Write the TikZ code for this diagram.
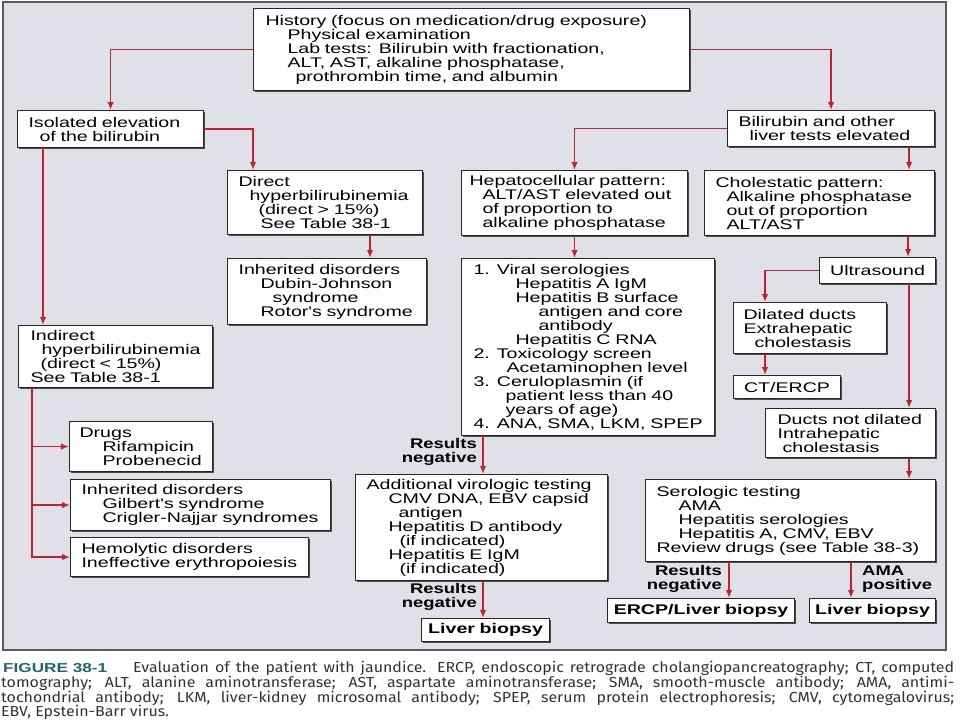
\documentclass[tikz,border=0pt]{standalone}
\usepackage{fontspec}
\setmainfont{Liberation Sans}
\newfontfamily\boxfont{Liberation Sans}[FakeStretch=1.4]
\newfontfamily\lblfont{Liberation Sans}[FakeStretch=1.32]
\newfontfamily\capfont{Fira Sans}[FakeStretch=1.1]
\usetikzlibrary{arrows.meta,shadows,calc}
\definecolor{panelbg}{HTML}{E0E1E8}
\definecolor{arrowred}{HTML}{C42030}
\definecolor{figteal}{HTML}{1F6670}
\newcommand{\tline}[2][0]{\mbox{\hspace*{#1pt}#2}}
\begin{document}
\begin{tikzpicture}[x=1pt,y=-1pt,
  box/.style={draw=black!85, line width=1.1pt, fill=white, inner sep=0pt, align=left, anchor=north west,
     font=\boxfont\fontsize{14}{14}\selectfont,
     drop shadow={shadow xshift=1.5pt, shadow yshift=-1.5pt, fill=black!70, opacity=1}},
  cbox/.style={box, align=center},
  arr/.style={draw=arrowred, line width=1.7pt, -{Latex[length=8pt,width=6.5pt]}},
  lbl/.style={inner sep=0pt, font=\lblfont\fontsize{14}{14}\selectfont\bfseries},
  captxt/.style={inner sep=0pt, anchor=base west, font=\capfont\fontsize{14.5}{15}\selectfont, text=black!80}
]
\useasboundingbox (0,0) rectangle (960,720);
\fill[white] (0,0) rectangle (960,720);
\draw[draw=black!65, line width=2pt, fill=panelbg] (3,2) rectangle (946,650);

% boxes
\node[box, minimum width=436pt, minimum height=82pt, text width=412pt] (hist) at (253,8)
 {\tline{History (focus on medication/drug exposure)}\\\tline[22]{Physical examination}\\\tline[22]{Lab tests: Bilirubin with fractionation,}\\\tline[22]{ALT, AST, alkaline phosphatase,}\\\tline[30]{prothrombin time, and albumin}};
\node[box, minimum width=186pt, minimum height=37pt, text width=164pt] (iso) at (17,110)
 {\tline{Isolated elevation}\\\tline[11]{of the bilirubin}};
\node[box, minimum width=207pt, minimum height=36pt, text width=185pt] (bili) at (727,110)
 {\tline{Bilirubin and other}\\\tline[11]{liver tests elevated}};
\node[box, minimum width=195pt, minimum height=64pt, text width=173pt] (direct) at (227,170)
 {\tline{Direct}\\\tline[11]{hyperbilirubinemia}\\\tline[20]{(direct > 15\%)}\\\tline[22]{See Table 38-1}};
\node[box, minimum width=226pt, minimum height=65pt, text width=210pt] (hep) at (461,170)
 {\tline{Hepatocellular pattern:}\\\tline[13]{ALT/AST elevated out}\\\tline[13]{of proportion to}\\\tline[13]{alkaline phosphatase}};
\node[box, minimum width=230pt, minimum height=65pt, text width=208pt] (chol) at (704,170)
 {\tline{Cholestatic pattern:}\\\tline[11]{Alkaline phosphatase}\\\tline[11]{out of proportion}\\\tline[11]{ALT/AST}};
\node[box, minimum width=199pt, minimum height=66pt, text width=177pt] (inh1) at (227,258)
 {\tline{Inherited disorders}\\\tline[22]{Dubin-Johnson}\\\tline[34]{syndrome}\\\tline[22]{Rotor's syndrome}};
\node[box, minimum width=194pt, minimum height=62pt, text width=170pt] (indir) at (18,325)
 {\tline{Indirect}\\\tline[11]{hyperbilirubinemia}\\\tline[10]{(direct < 15\%)}\\\tline{See Table 38-1}};
\node[box, minimum width=143pt, minimum height=50pt, text width=123pt] (drugs) at (69,421)
 {\tline{Drugs}\\\tline[23]{Rifampicin}\\\tline[23]{Probenecid}};
\node[box, minimum width=260pt, minimum height=51pt, text width=238pt] (inh2) at (70,479)
 {\tline{Inherited disorders}\\\tline[21]{Gilbert's syndrome}\\\tline[21]{Crigler-Najjar syndromes}};
\node[box, minimum width=238pt, minimum height=39pt, text width=216pt] (hemo) at (70,537)
 {\tline{Hemolytic disorders}\\\tline{Ineffective erythropoiesis}};
\node[box, minimum width=253pt, minimum height=177pt, text width=229pt] (viral) at (461,258)
 {\tline{1. Viral serologies}\\\tline[42]{Hepatitis A IgM}\\\tline[42]{Hepatitis B surface}\\\tline[65]{antigen and core}\\\tline[65]{antibody}\\\tline[42]{Hepatitis C RNA}\\\tline{2. Toxicology screen}\\\tline[33]{Acetaminophen level}\\\tline{3. Ceruloplasmin (if}\\\tline[32]{patient less than 40}\\\tline[32]{years of age)}\\\tline{4. ANA, SMA, LKM, SPEP}};
\node[box, minimum width=252pt, minimum height=106pt, text width=230pt] (addv) at (355,474)
 {\tline{Additional virologic testing}\\\tline[22]{CMV DNA, EBV capsid}\\\tline[32]{antigen}\\\tline[22]{Hepatitis D antibody}\\\tline[33]{(if indicated)}\\\tline[22]{Hepatitis E IgM}\\\tline[33]{(if indicated)}};
\node[cbox, minimum width=128pt, minimum height=23pt, text width=126pt] (lb1) at (421,618)
 {\bfseries Liver biopsy};
\node[cbox, minimum width=116pt, minimum height=26pt, text width=114pt] (us) at (819,257)
 {Ultrasound};
\node[box, minimum width=153pt, minimum height=51pt, text width=133pt] (dil) at (733,302)
 {\tline{Dilated ducts}\\\tline{Extrahepatic}\\\tline[11]{cholestasis}};
\node[cbox, minimum width=107pt, minimum height=23pt, text width=105pt] (ct) at (733,375)
 {CT/ERCP};
\node[box, minimum width=170pt, minimum height=49pt, text width=146pt] (ndil) at (765,408)
 {\tline{Ducts not dilated}\\\tline{Intrahepatic}\\\tline[5]{cholestasis}};
\node[box, minimum width=290pt, minimum height=82pt, text width=268pt] (sero) at (645,479)
 {\tline{Serologic testing}\\\tline[22]{AMA}\\\tline[22]{Hepatitis serologies}\\\tline[22]{Hepatitis A, CMV, EBV}\\\tline{Review drugs (see Table 38-3)}};
\node[cbox, minimum width=187pt, minimum height=24pt, text width=185pt] (ercp) at (607,598)
 {\bfseries ERCP/Liver biopsy};
\node[cbox, minimum width=126pt, minimum height=24pt, text width=124pt] (lb2) at (809,598)
 {\bfseries Liver biopsy};

% labels
\node[lbl, align=right, anchor=east] (rn1) at (477,452) {Results\\negative};
\node[lbl, align=right, anchor=east] (rn2) at (477,597) {Results\\negative};
\node[lbl, align=right, anchor=east] (rn3) at (722,579) {Results\\negative};
\node[lbl, align=left, anchor=west] (amap) at (862,579) {AMA\\positive};

% connectors
\draw[arr] (hist.west) -| (iso.north);
\draw[arr] (hist.east) -| (bili.north);
\draw[arr] (iso.east) -| ($(direct.north west)+(26,0)$);
\draw[arr] ($(iso.south west)+(26,0)$) coordinate (isoS) -- (isoS |- indir.north);
\draw[arr] ($(direct.south west)+(143,0)$) coordinate (dirS) -- (dirS |- inh1.north);
\coordinate (trk) at ($(indir.south west)+(14,0)$);
\draw[arr] (trk) |- (hemo.west);
\draw[arr] (trk |- drugs.west) -- (drugs.west);
\draw[arr] (trk |- inh2.west) -- (inh2.west);
\draw[arr] (bili.west) -| (hep.north);
\draw[arr] ($(bili.south east)+(-26,0)$) coordinate (biS) -- (biS |- chol.north);
\draw[arr] (hep.south) -- (hep.south |- viral.north);
\draw[arr] ($(chol.south east)+(-27,0)$) coordinate (chS) -- (chS |- us.north);
\draw[arr] (us.west) -| ($(dil.north west)+(32,0)$);
\draw[arr] ($(dil.south west)+(32,0)$) coordinate (dS) -- (dS |- ct.north);
\draw[arr] ($(us.south east)+(-27,0)$) coordinate (uS) -- (uS |- ndil.north);
\draw[arr] ($(ndil.south east)+(-27,0)$) coordinate (nS) -- (nS |- sero.north);
\draw[arr] ($(viral.south west)+(22,0)$) coordinate (vS) -- (vS |- addv.north);
\draw[arr] ($(addv.south west)+(128,0)$) coordinate (aS) -- (aS |- lb1.north);
\draw[arr] ($(sero.south west)+(84,0)$) coordinate (sS1) -- (sS1 |- ercp.north);
\draw[arr] ($(sero.south west)+(206,0)$) coordinate (sS2) -- (sS2 |- lb2.north);

% caption
\node[captxt] (cap1) at (3,672) {\makebox[951pt][s]{\makebox[130pt][l]{\lblfont\fontsize{13}{15}\selectfont\bfseries\color{figteal}FIGURE 38-1}Evaluation of the patient with jaundice. ERCP, endoscopic retrograde cholangiopancreatography; CT, computed}};
\node[captxt] (cap2) at (1,687) {\makebox[953pt][s]{tomography; ALT, alanine aminotransferase; AST, aspartate aminotransferase; SMA, smooth-muscle antibody; AMA, antimi-}};
\node[captxt] (cap3) at (1,702) {\makebox[953pt][s]{tochondrial antibody; LKM, liver-kidney microsomal antibody; SPEP, serum protein electrophoresis; CMV, cytomegalovirus;}};
\node[captxt] (cap4) at (1,716) {EBV, Epstein-Barr virus.};
\end{tikzpicture}
\end{document}
